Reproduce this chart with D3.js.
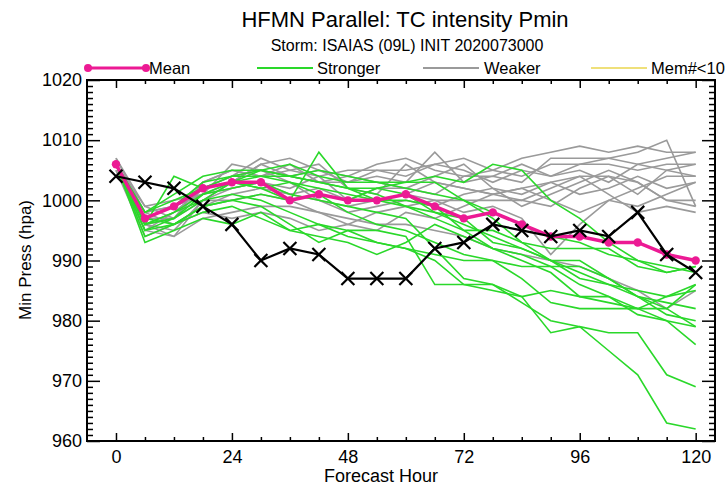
<!DOCTYPE html>
<html><head><meta charset="utf-8">
<script src="https://cdn.jsdelivr.net/npm/d3@7"></script>
<style>body{margin:0;background:#fff}svg{display:block;font-family:"Liberation Sans",Arial,sans-serif}</style>
</head><body><svg id="c" width="728" height="485"></svg>
<script>
const hours = [0,6,12,18,24,30,36,42,48,54,60,66,72,78,84,90,96,102,108,114,120];
const xMajorTicks = [0,24,48,72,96,120];
const yMajorTicks = [960,970,980,990,1000,1010,1020];
const legendLabels = ["Mean","Stronger","Weaker","Mem#<10"];

const meanValues = [1006,997,999,1002,1003,1003,1000,1001,1000,1000,1001,999,997,998,996,994,994,993,993,991,990];
const bestTrack  = [1004,1003,1002,999,996,990,992,991,987,987,987,992,993,996,995,994,995,994,998,991,988];

const weakerMembers = [
 [1006,998,999,1003,1005,1004,1005,1004,1005,1005,1005,1006,1007,1005,1004,1006,1006,1007,1008,1010,999],
 [1006,996,995,1000,1003,1006,1004,1003,1003,1004,1003,1008,1003,1004,1003,1007,1007,1007,1006,1007,1008],
 [1005,995,994,1000,1002,1003,1002,1004,1000,1002,1002,1001,1004,1004,1006,1004,1005,1003,1006,1005,1006],
 [1006,997,997,1002,1004,1007,1005,1006,1002,1001,1006,1003,1002,1001,1002,1003,1001,1002,1004,1002,1003],
 [1007,999,1000,1001,1006,1005,1003,1000,999,1000,1001,1003,1002,1001,1000,1002,1004,1004,1001,1005,1004],
 [1005,994,996,999,1001,1002,1001,1000,998,999,1000,999,1001,1002,999,1001,1003,1005,1003,1000,999],
 [1006,998,996,998,997,998,997,995,996,998,999,1000,1000,1000,1000,999,1002,1004,1003,1000,1000],
 [1006,996,997,1000,1000,1001,1000,998,997,996,996,995,994,992,991,990,989,987,985,982,985],
 [1006,997,999,1001,1002,1003,1001,1002,1000,1000,1001,1000,998,999,997,991,996,1000,1002,1004,1004],
 [1006,995,998,1002,1004,1005,1004,1005,1003,1005,1004,1006,1005,1003,1005,1004,1006,1006,1005,1006,1006],
 [1007,998,999,1001,1003,1006,1007,1005,1004,1006,1007,1005,1004,1005,1007,1008,1009,1008,1009,1008,1008],
 [1006,996,994,997,998,999,999,998,996,995,998,997,999,1001,1002,1000,998,1000,999,1001,1003],
 [1006,999,997,1003,1005,1004,1006,1003,1004,1003,1002,1004,1006,1002,1001,1003,1004,1001,998,999,998]
];

const strongerMembers = [
 [1006,996,998,1001,1002,1003,1001,1000,999,998,997,992,987,986,983,980,979,975,971,963,962],
 [1006,995,997,1000,1001,1000,998,996,995,995,994,986,986,986,984,978,979,978,978,971,969],
 [1006,997,999,1003,1004,1004,1003,1002,1001,1000,1000,999,995,992,990,988,984,984,981,980,976],
 [1006,998,1001,1004,1005,1005,1004,1003,1002,1002,1001,998,996,994,992,990,990,987,984,982,979],
 [1006,994,996,999,1000,999,996,993,995,993,992,991,990,990,987,983,982,982,982,982,986],
 [1006,996,1004,1002,1003,1002,1000,1001,998,996,995,993,991,990,989,989,989,987,984,983,982],
 [1006,997,999,1002,1003,1005,1004,1003,1002,1001,999,997,995,995,993,992,992,992,989,988,989],
 [1006,998,1000,1002,1004,1005,1006,1004,1003,1003,1002,1001,1000,998,996,994,993,991,990,988,989],
 [1006,995,996,999,1000,1001,1000,1008,1002,1000,999,998,997,993,992,990,988,986,984,981,980],
 [1006,993,995,997,996,998,995,994,993,991,993,996,994,992,991,989,986,984,982,980,979],
 [1006,996,998,1000,1003,1004,1004,1005,1004,1003,1003,1004,1003,1006,1005,1000,997,993,990,989,988],
 [1006,996,997,1001,1003,1002,1003,1001,1000,1002,1003,1003,1000,997,993,990,987,986,985,984,985],
 [1006,997,996,998,999,997,995,996,994,993,992,990,986,985,984,985,984,983,982,984,986]
];

const svg = d3.select("#c");
const L=87, R=715, T=80, B=441;
const x = d3.scaleLinear().domain([-6,124]).range([L,R]);
const y = d3.scaleLinear().domain([960,1020]).range([B,T]);
const minorX = d3.range(6,124,6).filter(h=>h%24!==0);
const minorY = d3.range(961,1020,1).filter(v=>v%10!==0);

const COL = {mean:"#ec1a94", green:"#2ad82a", gray:"#9a9a9a", yellow:"#efe07a"};

// titles
svg.append("text").attr("x",405).attr("y",27).attr("text-anchor","middle")
  .attr("font-size",22).text("HFMN Parallel: TC intensity Pmin");
svg.append("text").attr("x",407).attr("y",51).attr("text-anchor","middle")
  .attr("font-size",16).text("Storm: ISAIAS (09L) INIT 2020073000");

// legend
const legY = 68;
const legItems = [
 {x0:88,x1:146,tx:149,col:COL.mean,w:3,dots:true},
 {x0:257,x1:313,tx:317,col:COL.green,w:2},
 {x0:423,x1:479,tx:484,col:COL.gray,w:2},
 {x0:591,x1:647,tx:651,col:COL.yellow,w:2}
];
legItems.forEach((it,i)=>{
  svg.append("line").attr("x1",it.x0).attr("x2",it.x1).attr("y1",legY).attr("y2",legY)
    .attr("stroke",it.col).attr("stroke-width",it.w);
  if(it.dots){[it.x0,it.x1].forEach(cx=>svg.append("circle").attr("cx",cx).attr("cy",legY).attr("r",4).attr("fill",it.col));}
  svg.append("text").attr("x",it.tx).attr("y",legY+6).attr("font-size",16.5).text(legendLabels[i]);
});

// data
const line = d3.line().x((d,i)=>x(hours[i])).y(d=>y(d));
const plot = svg.append("g");
weakerMembers.forEach(s=>plot.append("path").attr("d",line(s)).attr("fill","none")
  .attr("stroke",COL.gray).attr("stroke-width",1.6));
strongerMembers.forEach(s=>plot.append("path").attr("d",line(s)).attr("fill","none")
  .attr("stroke",COL.green).attr("stroke-width",1.6));

plot.append("path").attr("d",line(meanValues)).attr("fill","none")
  .attr("stroke",COL.mean).attr("stroke-width",3.5);
plot.selectAll("circle.m").data(meanValues).join("circle").attr("class","m")
  .attr("cx",(d,i)=>x(hours[i])).attr("cy",d=>y(d)).attr("r",4.2).attr("fill",COL.mean);

plot.append("path").attr("d",line(bestTrack)).attr("fill","none")
  .attr("stroke","#000").attr("stroke-width",2.2);
const s=6.5;
plot.selectAll("path.xm").data(bestTrack).join("path").attr("class","xm")
  .attr("d",(d,i)=>{const cx=x(hours[i]),cy=y(d);return `M${cx-s},${cy-s}L${cx+s},${cy+s}M${cx-s},${cy+s}L${cx+s},${cy-s}`;})
  .attr("stroke","#000").attr("stroke-width",2.2);

// axes
function styleAxis(g){g.select(".domain").remove();g.selectAll("line").attr("stroke","#000").attr("stroke-width",1.5);
  g.selectAll("text").attr("font-size",18).attr("fill","#000").attr("font-family","Liberation Sans, Arial, sans-serif");}
svg.append("g").attr("transform",`translate(0,${B})`)
  .call(d3.axisBottom(x).tickValues(xMajorTicks).tickSize(-8).tickPadding(6).tickFormat(d3.format("d"))).call(styleAxis)
  .selectAll("text").attr("dy","0.9em");
svg.append("g").attr("transform",`translate(0,${B})`)
  .call(d3.axisBottom(x).tickValues(minorX).tickSize(-4).tickFormat("")).call(styleAxis);
svg.append("g").attr("transform",`translate(0,${T})`)
  .call(d3.axisTop(x).tickValues(xMajorTicks).tickSize(-8).tickFormat("")).call(styleAxis);
svg.append("g").attr("transform",`translate(0,${T})`)
  .call(d3.axisTop(x).tickValues(minorX).tickSize(-4).tickFormat("")).call(styleAxis);
svg.append("g").attr("transform",`translate(${L},0)`)
  .call(d3.axisLeft(y).tickValues(yMajorTicks).tickSize(-13).tickPadding(5).tickFormat(d3.format("d"))).call(styleAxis);
svg.append("g").attr("transform",`translate(${L},0)`)
  .call(d3.axisLeft(y).tickValues(minorY).tickSize(-6).tickFormat("")).call(styleAxis);
svg.append("g").attr("transform",`translate(${R},0)`)
  .call(d3.axisRight(y).tickValues(yMajorTicks).tickSize(-13).tickFormat("")).call(styleAxis);
svg.append("g").attr("transform",`translate(${R},0)`)
  .call(d3.axisRight(y).tickValues(minorY).tickSize(-6).tickFormat("")).call(styleAxis);

svg.append("rect").attr("x",L).attr("y",T).attr("width",R-L).attr("height",B-T)
  .attr("fill","none").attr("stroke","#000").attr("stroke-width",2);

svg.append("text").attr("x",381).attr("y",482).attr("text-anchor","middle").attr("font-size",18).text("Forecast Hour");
svg.append("text").attr("transform","translate(31,260) rotate(-90)").attr("text-anchor","middle")
  .attr("font-size",17).text("Min Press (hpa)");
</script></body></html>
